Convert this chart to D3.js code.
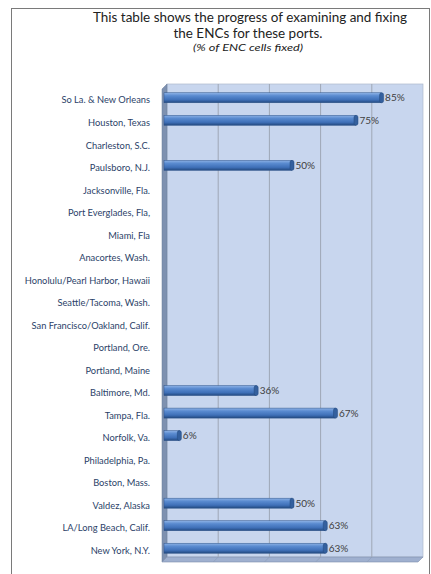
<!DOCTYPE html>
<html>
<head>
<meta charset="utf-8">
<script src="https://cdn.jsdelivr.net/npm/d3@7"></script>
<style>
  body { margin: 0; background: #fff; }
  svg text { font-family: Lato, "Open Sans", sans-serif; }
</style>
</head>
<body>
<div id="chart-area"></div>
<script>
// ports, top to bottom as in the chart
var ports = ["So La. & New Orleans", "Houston, Texas", "Charleston, S.C.", "Paulsboro, N.J.",
    "Jacksonville, Fla.", "Port Everglades, Fla,", "Miami, Fla", "Anacortes, Wash.",
    "Honolulu/Pearl Harbor, Hawaii", "Seattle/Tacoma, Wash.", "San Francisco/Oakland, Calif.",
    "Portland, Ore.", "Portland, Maine", "Baltimore, Md.", "Tampa, Fla.", "Norfolk, Va.",
    "Philadelphia, Pa.", "Boston, Mass.", "Valdez, Alaska", "LA/Long Beach, Calif.", "New York, N.Y."];
// % of ENC cells fixed (null = no bar)
var pctFixed = [85, 75, null, 50, null, null, null, null, null, null, null,
    null, null, 36, 67, 6, null, null, 50, 63, 63];
var gridTicks = [0, 20, 40, 60, 80, 100];
var titleLines = ["This table shows the progress of examining and fixing", "the ENCs for these ports."];
var subTitle = "(%  of ENC cells fixed)";

var width = 431, height = 574;
var depth = 5;
var back = {left: 167, right: 423, top: 84, bottom: 557};

var svg = d3.select("#chart-area").append("svg").attr("width", width).attr("height", height);

// outer frame
svg.append("rect").attr("x", 11.5).attr("y", 8.5).attr("width", 418).attr("height", 580)
    .attr("fill", "none").attr("stroke", "#7a7a7a");

var x = d3.scaleLinear().domain([0, 100]).range([back.left, back.right]);
var y = d3.scaleBand().domain(ports).range([back.top, back.bottom]);

var defs = svg.append("defs");
var grad = defs.append("linearGradient").attr("id", "barGrad").attr("x1", 0).attr("y1", 0).attr("x2", 0).attr("y2", 1);
grad.append("stop").attr("offset", "0%").attr("stop-color", "#8fb3e6");
grad.append("stop").attr("offset", "30%").attr("stop-color", "#5a8bd0");
grad.append("stop").attr("offset", "70%").attr("stop-color", "#3f70b8");
grad.append("stop").attr("offset", "100%").attr("stop-color", "#23497f");

// back wall
svg.append("rect").attr("x", back.left).attr("y", back.top).attr("width", back.right - back.left)
    .attr("height", back.bottom - back.top).attr("fill", "#c8d6ee").attr("stroke", "#aeb9cc").attr("stroke-width", 0.7);

// left wall
svg.append("polygon")
    .attr("points", [[back.left - depth, back.top + depth], [back.left, back.top], [back.left, back.bottom], [back.left - depth, back.bottom + depth]].join(" "))
    .attr("fill", "#7e91b0").attr("stroke", "#6b7d9b").attr("stroke-width", 0.5);

// floor
svg.append("polygon")
    .attr("points", [[back.left - depth, back.bottom + depth], [back.left, back.bottom], [back.right, back.bottom], [back.right - depth, back.bottom + depth]].join(" "))
    .attr("fill", "#9fb0cf").attr("stroke", "#7d8eac").attr("stroke-width", 0.6);

// gridlines on back wall
svg.append("g").selectAll("line").data(gridTicks.slice(1, -1)).enter().append("line")
    .attr("x1", function(d) { return x(d); }).attr("x2", function(d) { return x(d); })
    .attr("y1", back.top).attr("y2", back.bottom)
    .attr("stroke", "#9ea7b6").attr("stroke-width", 1);
svg.append("g").selectAll("line").data(gridTicks.slice(1, -1)).enter().append("line")
    .attr("x1", function(d) { return x(d); }).attr("x2", function(d) { return x(d) - depth; })
    .attr("y1", back.bottom).attr("y2", back.bottom + depth)
    .attr("stroke", "#8a9ab6").attr("stroke-width", 0.6);

// category labels
svg.append("g").selectAll("text").data(ports).enter().append("text")
    .attr("x", 150).attr("y", function(d) { return y(d) + y.bandwidth() / 2 + depth + 3.2; })
    .attr("text-anchor", "end").attr("font-size", "9.3px").attr("fill", "#2b3f68")
    .text(function(d) { return d; });

// bars
var rows = ports.map(function(p, i) { return {port: p, v: pctFixed[i]}; }).filter(function(d) { return d.v !== null; });
var barH = 10;
var x0 = x(0) - 3;
var bars = svg.append("g").selectAll("g").data(rows).enter().append("g");
bars.append("rect")
    .attr("x", x0).attr("y", function(d) { return y(d.port) + y.bandwidth() / 2 + depth - 2.5 - barH / 2; })
    .attr("width", function(d) { return x(d.v) - 3 - x0; }).attr("height", barH)
    .attr("fill", "url(#barGrad)").attr("stroke", "#2c5289").attr("stroke-width", 0.5);
bars.append("rect")
    .attr("x", function(d) { return x(d.v) - 5; })
    .attr("y", function(d) { return y(d.port) + y.bandwidth() / 2 + depth - 2.5 - barH / 2; })
    .attr("width", 4).attr("height", barH).attr("rx", 2)
    .attr("fill", "#34609e").attr("stroke", "#22487c").attr("stroke-width", 0.5);
bars.append("text")
    .attr("x", function(d) { return x(d.v) + 0.5; })
    .attr("y", function(d) { return y(d.port) + y.bandwidth() / 2 + depth - 2.5 + 3.5; })
    .attr("font-size", "10px").attr("fill", "#404040")
    .text(function(d) { return d.v + "%"; });

// title
svg.append("text").attr("x", 250).attr("y", 22).attr("text-anchor", "middle")
    .attr("font-size", "12.5px").attr("fill", "#222").attr("textLength", 314).attr("lengthAdjust", "spacingAndGlyphs")
    .text(titleLines[0]);
svg.append("text").attr("x", 248).attr("y", 38).attr("text-anchor", "middle")
    .attr("font-size", "12.5px").attr("fill", "#222").attr("textLength", 149).attr("lengthAdjust", "spacingAndGlyphs")
    .text(titleLines[1]);
svg.append("text").attr("x", 248).attr("y", 51).attr("text-anchor", "middle")
    .attr("font-size", "10px").attr("font-style", "italic").attr("fill", "#222")
    .attr("textLength", 110).attr("lengthAdjust", "spacingAndGlyphs")
    .text(subTitle);
</script>
</body>
</html>
